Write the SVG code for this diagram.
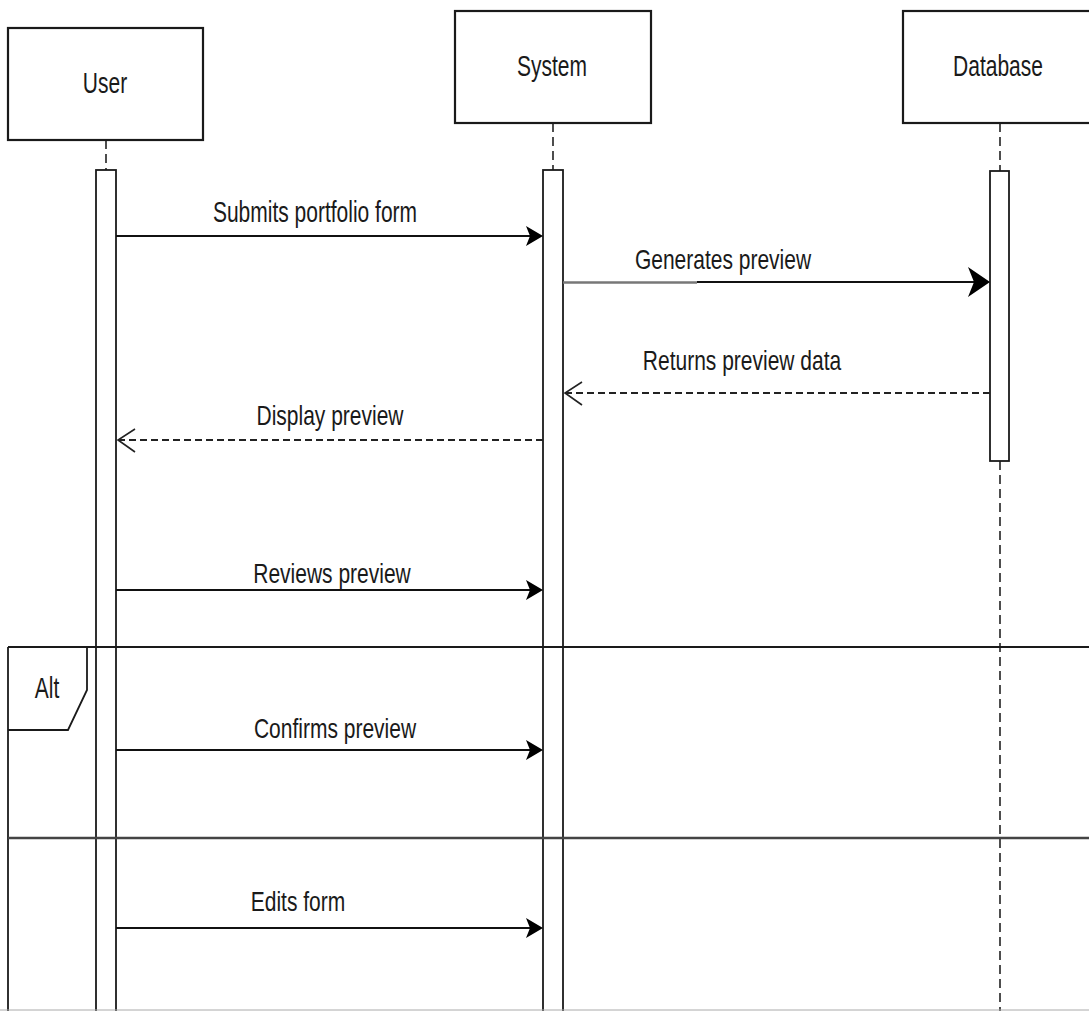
<svg xmlns="http://www.w3.org/2000/svg" width="1089" height="1011" viewBox="0 0 1089 1011">
  <style>
    .box { fill: #fff; stroke: #1a1a1a; stroke-width: 2.2; }
    .act { fill: #fff; stroke: #1a1a1a; stroke-width: 1.8; }
    .life { stroke: #222; stroke-width: 1.6; stroke-dasharray: 9 5; fill: none; }
    .msg { stroke: #111; stroke-width: 2; fill: none; }
    .ret { stroke: #222; stroke-width: 2; stroke-dasharray: 7 4; fill: none; }
    .frame { stroke: #1a1a1a; stroke-width: 1.8; fill: none; }
    .head { fill: #000; stroke: none; }
    .open { fill: none; stroke: #222; stroke-width: 1.6; }
    text { font-family: "Liberation Sans", Arial, sans-serif; font-size: 21px; fill: #1a1a1a; text-anchor: middle; }
  </style>
  <rect x="0" y="0" width="1089" height="1011" fill="#fff"/>

  <!-- lifelines -->
  <g id="lifelines">
    <line class="life" x1="106" y1="140" x2="106" y2="170"/>
    <line class="life" x1="553" y1="123" x2="553" y2="170"/>
    <line class="life" x1="1000" y1="123" x2="1000" y2="171"/>
    <line class="life" x1="1000" y1="461" x2="1000" y2="1011"/>
  </g>

  <!-- participants -->
  <g id="user">
    <rect class="box" x="8" y="28" width="195" height="112"/>
    <text transform="translate(105 93) scale(1 1.4)">User</text>
    <rect class="act" x="96" y="170" width="20" height="860"/>
  </g>
  <g id="system">
    <rect class="box" x="455" y="11" width="196" height="112"/>
    <text transform="translate(552 76) scale(1 1.4)">System</text>
    <rect class="act" x="543" y="170" width="20" height="860"/>
  </g>
  <g id="database">
    <rect class="box" x="903" y="11" width="200" height="112"/>
    <text transform="translate(998 76) scale(1 1.4)">Database</text>
    <rect class="act" x="990" y="171" width="19" height="290"/>
  </g>

  <!-- alt combined fragment -->
  <g id="alt-frame">
    <line class="frame" x1="8" y1="647" x2="1089" y2="647"/>
    <line class="frame" x1="8" y1="647" x2="8" y2="1011"/>
    <polyline class="frame" points="87,647 87,690 68,730 8,730"/>
    <line x1="8" y1="838" x2="1089" y2="838" stroke="#444" stroke-width="2.6"/>
    <line x1="0" y1="1010" x2="1089" y2="1010" stroke="#aaa" stroke-width="1"/>
    <text transform="translate(47 698) scale(1 1.4)">Alt</text>
  </g>

  <!-- messages -->
  <g id="connectors">
    <!-- Submits portfolio form -->
    <line class="msg" x1="116" y1="236" x2="532" y2="236"/>
    <path class="head" d="M543,236 L526,226 L530,236 L526,246 Z"/>
    <text transform="translate(315 222) scale(1 1.4)">Submits portfolio form</text>

    <!-- Generates preview -->
    <line x1="563" y1="282.5" x2="697" y2="282.5" stroke="#777" stroke-width="2.6"/>
    <line class="msg" x1="697" y1="282" x2="975" y2="282"/>
    <path class="head" d="M990,282 L968,267 L974,282 L968,297 Z"/>
    <text transform="translate(723 269) scale(1 1.35)">Generates preview</text>

    <!-- Returns preview data -->
    <line class="ret" x1="990" y1="393" x2="566" y2="393"/>
    <polyline class="open" points="582,382 565,393 582,405"/>
    <text transform="translate(742 370) scale(1 1.35)">Returns preview data</text>

    <!-- Display preview -->
    <line class="ret" x1="543" y1="440" x2="119" y2="440"/>
    <polyline class="open" points="135,429 118,440 135,452"/>
    <text transform="translate(330 425) scale(1 1.35)">Display preview</text>

    <!-- Reviews preview -->
    <line class="msg" x1="116" y1="590" x2="532" y2="590"/>
    <path class="head" d="M543,590 L526,580 L530,590 L526,600 Z"/>
    <text transform="translate(332 583) scale(1 1.35)">Reviews preview</text>

    <!-- Confirms preview -->
    <line class="msg" x1="116" y1="750" x2="532" y2="750"/>
    <path class="head" d="M543,750 L526,740 L530,750 L526,760 Z"/>
    <text transform="translate(335 738) scale(1 1.35)">Confirms preview</text>

    <!-- Edits form -->
    <line class="msg" x1="116" y1="928" x2="532" y2="928"/>
    <path class="head" d="M543,928 L526,918 L530,928 L526,938 Z"/>
    <text transform="translate(298 911) scale(1 1.35)">Edits form</text>
  </g>
</svg>
